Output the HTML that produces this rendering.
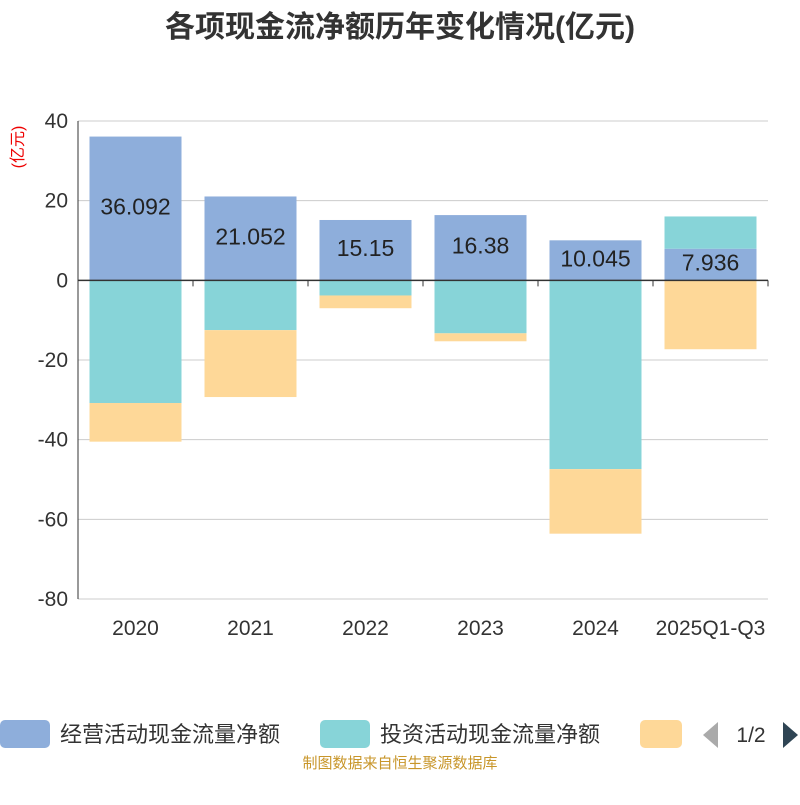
<!DOCTYPE html>
<html><head><meta charset="utf-8"><style>
body{margin:0;background:#fff;}
svg text{font-family:"Liberation Sans","Noto Sans CJK SC",sans-serif;}
</style></head><body>
<svg id="c" width="800" height="800" xmlns="http://www.w3.org/2000/svg">
<text x="400" y="37" text-anchor="middle" font-size="30" font-weight="bold" fill="#333">各项现金流净额历年变化情况(亿元)</text>
<text transform="translate(23,147) rotate(-90)" text-anchor="middle" font-size="16" fill="#e00">(亿元)</text>
<g id="grid"></g><g id="bars"></g><g id="axes"></g>
<g>
<rect x="0" y="720" width="50" height="28" rx="5" fill="#8eaedb"/>
<text x="60" y="742" font-size="22" fill="#333">经营活动现金流量净额</text>
<rect x="320" y="720" width="50" height="28" rx="5" fill="#87d4d8"/>
<text x="380" y="742" font-size="22" fill="#333">投资活动现金流量净额</text>
<rect x="640" y="720" width="42" height="28" rx="5" fill="#fed898"/>
<polygon points="718,722 718,748 703,735" fill="#aaa"/>
<text x="751" y="742" text-anchor="middle" font-size="21" fill="#333">1/2</text>
<polygon points="783,722 783,748 798,735" fill="#2f4554"/>
</g>
<text x="400" y="768" text-anchor="middle" font-size="15" fill="#c8962a">制图数据来自恒生聚源数据库</text>
</svg>
<script>
const categories=["2020","2021","2022","2023","2024","2025Q1-Q3"];
const operating=[36.092,21.052,15.15,16.38,10.045,7.936];
const investing=[-30.8,-12.5,-3.8,-13.3,-47.4,8.1];
const financing=[-9.7,-16.8,-3.2,-2.0,-16.2,-17.3];
const yTicks=[40,20,0,-20,-40,-60,-80];
const NS="http://www.w3.org/2000/svg";
const x0=78,x1=768,yTop=121,yBot=599,yMax=40,yMin=-80;
const y=v=>yTop+(yMax-v)/(yMax-yMin)*(yBot-yTop);
const band=(x1-x0)/categories.length;
const xc=i=>x0+band*(i+0.5);
function mk(tag,attrs,parent){const e=document.createElementNS(NS,tag);for(const k in attrs)e.setAttribute(k,attrs[k]);document.getElementById(parent).appendChild(e);return e;}
yTicks.forEach(t=>{
 if(t!==0){const l=mk('line',{x1:x0,x2:x1,y1:y(t),y2:y(t),stroke:'#ccc','stroke-width':1},'grid');
 
 }
 const tx=mk('text',{x:x0-10,y:y(t)+7,'text-anchor':'end','font-size':21,fill:'#333'},'axes');
 tx.textContent=t;
 
 
});
const bw=band*0.8;
const series=[[operating,'#8eaedb','operating'],[investing,'#87d4d8','investing'],[financing,'#fed898','financing']];
categories.forEach((c,i)=>{
 let pos=0,neg=0;
 series.forEach(([arr,col,nm])=>{
  const v=arr[i];let a,b;
  if(v>=0){a=pos;b=pos+v;pos=b;}else{a=neg;b=neg+v;neg=b;}
  const r=mk('rect',{x:xc(i)-bw/2,y:Math.min(y(a),y(b)),width:bw,height:Math.abs(y(a)-y(b)),fill:col},'bars');
  
  
 });
 const lt=mk('text',{x:xc(i),y:y(operating[i]/2)+6,'text-anchor':'middle','font-size':23,fill:'#222'},'bars');
 lt.textContent=operating[i];
 
 
 const xt=mk('text',{x:xc(i),y:635,'text-anchor':'middle','font-size':21,fill:'#333'},'axes');
 xt.textContent=c;
 
 
});
const ya=mk('line',{x1:x0,x2:x0,y1:yTop,y2:yBot,stroke:'#333','stroke-width':1},'axes');


const xa=mk('line',{x1:x0,x2:x1,y1:y(0),y2:y(0),stroke:'#333','stroke-width':1.5},'axes');


for(let i=0;i<=categories.length;i++){
 const tk=mk('line',{x1:x0+band*i,x2:x0+band*i,y1:y(0),y2:y(0)+6,stroke:'#333'},'axes');
 
 
}
</script>
</body></html>
